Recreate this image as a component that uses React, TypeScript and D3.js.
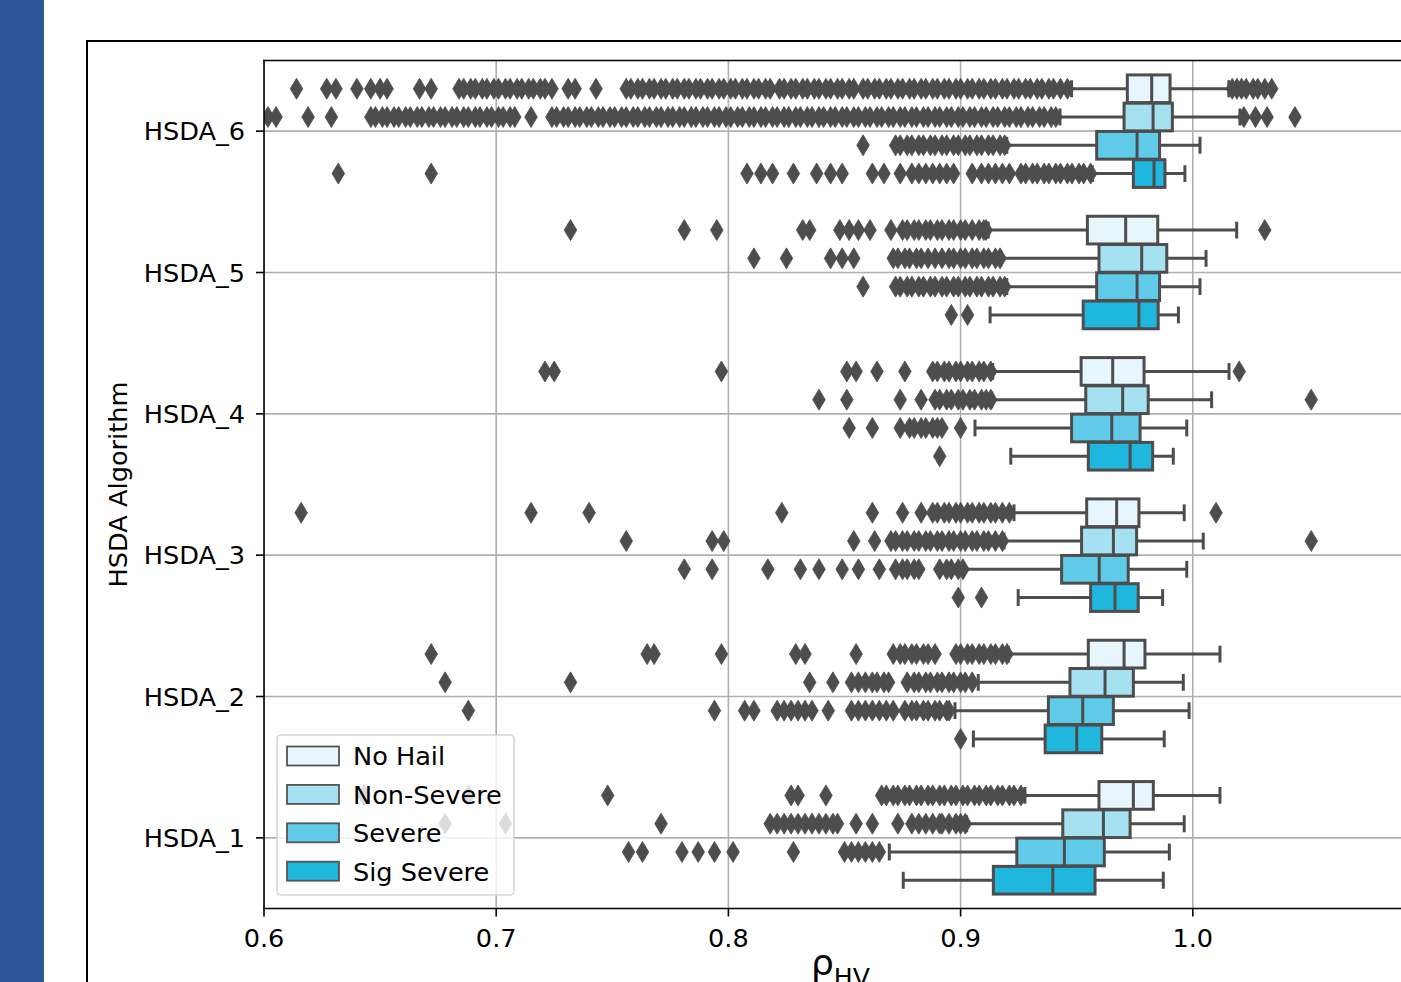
import React from "react";
import * as d3 from "d3";

const CATEGORIES = ["HSDA_6", "HSDA_5", "HSDA_4", "HSDA_3", "HSDA_2", "HSDA_1"];
const HUES = ["No Hail", "Non-Severe", "Severe", "Sig Severe"];
const HUE_COLORS = ["#e6f6fc", "#a6e1f1", "#5fcbe8", "#1fb7de"];
const X_TICKS = [0.6, 0.7, 0.8, 0.9, 1.0];

// [lower whisker, Q1, median, Q3, upper whisker], rows HSDA_6 .. HSDA_1
const NO_HAIL_BOX = [
  [0.9478, 0.9718, 0.9823, 0.9902, 1.0155],
  [0.9119, 0.9546, 0.9711, 0.9849, 1.0189],
  [0.9138, 0.9519, 0.9655, 0.979, 1.0156],
  [0.923, 0.9543, 0.9672, 0.9768, 0.9963],
  [0.9205, 0.955, 0.9704, 0.9794, 1.0117],
  [0.9277, 0.9596, 0.9744, 0.983, 1.0117],
];
const NON_SEVERE_BOX = [
  [0.9428, 0.9704, 0.9829, 0.9912, 1.0203],
  [0.9173, 0.9596, 0.978, 0.9888, 1.0057],
  [0.9134, 0.9539, 0.9698, 0.9808, 1.0081],
  [0.9187, 0.9521, 0.9658, 0.9758, 1.0045],
  [0.9076, 0.9471, 0.9622, 0.9744, 0.9959],
  [0.9026, 0.944, 0.9615, 0.973, 0.9963],
];
const SEVERE_BOX = [
  [0.9199, 0.9586, 0.976, 0.9857, 1.0031],
  [0.9199, 0.9586, 0.976, 0.9857, 1.0031],
  [0.9062, 0.9478, 0.9651, 0.9773, 0.9974],
  [0.9012, 0.9435, 0.9597, 0.9722, 0.9974],
  [0.8976, 0.9378, 0.9526, 0.9658, 0.9984],
  [0.8693, 0.9242, 0.9447, 0.9619, 0.9899],
];
const SIG_SEVERE_BOX = [
  [0.9567, 0.9744, 0.9833, 0.988, 0.9966],
  [0.9127, 0.9528, 0.9768, 0.9851, 0.9938],
  [0.9216, 0.955, 0.973, 0.9827, 0.9916],
  [0.9248, 0.956, 0.9665, 0.9765, 0.987],
  [0.9055, 0.9364, 0.95, 0.9608, 0.9877],
  [0.8753, 0.9141, 0.9397, 0.9579, 0.9873],
];

// outliers, rows HSDA_6 .. HSDA_1
const NO_HAIL_OUT = [
  [0.614, 0.627, 0.631, 0.64, 0.646, 0.65, 0.653, 0.667, 0.672,
   0.684, 0.686, 0.689, 0.691, 0.694, 0.696, 0.699, 0.701, 0.704, 0.706, 0.709, 0.711, 0.714, 0.716, 0.719, 0.721, 0.724,
   0.731, 0.734, 0.743,
   0.756, 0.758, 0.761, 0.763, 0.766, 0.768, 0.771, 0.773, 0.776, 0.778, 0.781, 0.783, 0.786, 0.788, 0.791, 0.793, 0.796,
   0.798, 0.801, 0.803, 0.806, 0.808, 0.811, 0.813, 0.816, 0.818, 0.822, 0.824, 0.827, 0.829, 0.832, 0.834, 0.837, 0.839,
   0.842, 0.844, 0.847, 0.849, 0.852, 0.854, 0.858, 0.86, 0.863, 0.865, 0.868, 0.87, 0.873, 0.875, 0.878, 0.88, 0.883,
   0.885, 0.888, 0.89, 0.893, 0.895, 0.898, 0.9, 0.903, 0.905, 0.908, 0.91, 0.913, 0.915, 0.918, 0.92, 0.923, 0.925, 0.928,
   0.93, 0.933, 0.935, 0.938, 0.94, 0.943, 0.946,
   1.017, 1.019, 1.021, 1.023, 1.026, 1.028, 1.031, 1.034],
  [0.732, 0.781, 0.795, 0.832, 0.835, 0.848, 0.852, 0.856, 0.861, 0.87, 0.875, 0.877, 0.88, 0.882, 0.885, 0.887, 0.89,
   0.892, 0.895, 0.897, 0.9, 0.902, 0.905, 0.908, 0.91, 0.911, 1.031],
  [0.721, 0.725, 0.797, 0.851, 0.855, 0.864, 0.876, 0.888, 0.89, 0.893, 0.895, 0.898, 0.9, 0.903, 0.905, 0.908, 0.91,
   0.913, 1.02],
  [0.616, 0.715, 0.74, 0.823, 0.862, 0.875, 0.883, 0.888, 0.89, 0.893, 0.895, 0.898, 0.9, 0.903, 0.905, 0.908, 0.91,
   0.913, 0.915, 0.918, 0.921, 1.01],
  [0.672, 0.765, 0.768, 0.797, 0.829, 0.833, 0.855, 0.871, 0.874, 0.876, 0.879, 0.881, 0.884, 0.886, 0.889, 0.898, 0.9,
   0.903, 0.905, 0.908, 0.91, 0.913, 0.915, 0.918, 0.92],
  [0.643, 0.688, 0.748, 0.827, 0.83, 0.842, 0.866, 0.868, 0.871, 0.873, 0.876, 0.878, 0.881, 0.883, 0.886, 0.888, 0.891,
   0.893, 0.896, 0.898, 0.901, 0.903, 0.906, 0.908, 0.911, 0.913, 0.916, 0.918, 0.921, 0.923, 0.926],
];
const NON_SEVERE_OUT = [
  [0.6017, 0.6052, 0.619, 0.629,
   0.646, 0.648, 0.651, 0.653, 0.656, 0.658, 0.661, 0.663, 0.666, 0.668, 0.671, 0.673, 0.676, 0.678, 0.681, 0.683, 0.686,
   0.688, 0.691, 0.693, 0.696, 0.698, 0.701, 0.703, 0.706, 0.708, 0.715,
   0.724, 0.726, 0.729, 0.731, 0.734, 0.736, 0.739, 0.741, 0.744, 0.746, 0.749, 0.751, 0.754, 0.756, 0.759, 0.761, 0.764,
   0.766, 0.769, 0.771, 0.774, 0.776, 0.779, 0.781, 0.784, 0.786, 0.789, 0.791, 0.794, 0.796, 0.799, 0.801, 0.804, 0.806,
   0.809, 0.811, 0.814, 0.816, 0.819, 0.821, 0.824, 0.826, 0.829, 0.831, 0.834, 0.836, 0.839, 0.841, 0.844, 0.846, 0.849,
   0.851, 0.854, 0.856, 0.859, 0.861, 0.864, 0.866, 0.869, 0.871, 0.874, 0.876, 0.879, 0.881, 0.884, 0.886, 0.889, 0.891,
   0.894, 0.896, 0.899, 0.901, 0.904, 0.906, 0.909, 0.911, 0.914, 0.916, 0.919, 0.921, 0.924, 0.926, 0.929, 0.931, 0.934,
   0.936, 0.939, 0.941,
   1.022, 1.027, 1.032, 1.044],
  [0.811, 0.825, 0.844, 0.849, 0.854, 0.871, 0.873, 0.876, 0.878, 0.881, 0.883, 0.886, 0.889, 0.892, 0.895, 0.897, 0.9,
   0.902, 0.905, 0.907, 0.91, 0.912, 0.915, 0.917],
  [0.839, 0.851, 0.874, 0.883, 0.889, 0.891, 0.894, 0.896, 0.899, 0.901, 0.904, 0.906, 0.909, 0.911, 0.913, 1.051],
  [0.756, 0.793, 0.798, 0.854, 0.863, 0.87, 0.872, 0.875, 0.877, 0.88, 0.882, 0.885, 0.887, 0.89, 0.892, 0.895, 0.897,
   0.9, 0.902, 0.905, 0.907, 0.91, 0.912, 0.915, 0.918, 1.051],
  [0.678, 0.732, 0.835, 0.845, 0.853, 0.856, 0.859, 0.862, 0.864, 0.867, 0.869, 0.877, 0.88, 0.882, 0.885, 0.887, 0.89,
   0.892, 0.895, 0.897, 0.9, 0.902, 0.905],
  [0.678, 0.704, 0.771, 0.818, 0.821, 0.824, 0.827, 0.83, 0.833, 0.836, 0.839, 0.842, 0.845, 0.847, 0.855, 0.862, 0.873,
   0.879, 0.882, 0.885, 0.888, 0.891, 0.892, 0.895, 0.898, 0.9, 0.902],
];
const SEVERE_OUT = [
  [0.858, 0.872, 0.874, 0.877, 0.879, 0.882, 0.884, 0.887, 0.889, 0.892, 0.894, 0.897, 0.899, 0.902, 0.904, 0.907, 0.909,
   0.912, 0.914, 0.917, 0.919],
  [0.858, 0.872, 0.874, 0.877, 0.879, 0.882, 0.884, 0.887, 0.889, 0.892, 0.894, 0.897, 0.899, 0.902, 0.904, 0.907, 0.909,
   0.912, 0.914, 0.917, 0.919],
  [0.852, 0.862, 0.874, 0.878, 0.88, 0.883, 0.885, 0.888, 0.89, 0.892, 0.9],
  [0.781, 0.793, 0.817, 0.831, 0.839, 0.849, 0.856, 0.865, 0.872, 0.875, 0.877, 0.88, 0.882, 0.891, 0.894, 0.896, 0.899,
   0.901],
  [0.688, 0.794, 0.807, 0.811, 0.821, 0.824, 0.827, 0.83, 0.833, 0.836, 0.843, 0.853, 0.856, 0.859, 0.862, 0.865, 0.868,
   0.871, 0.876, 0.879, 0.881, 0.884, 0.886, 0.889, 0.891, 0.894, 0.895],
  [0.757, 0.763, 0.78, 0.787, 0.794, 0.802, 0.828, 0.85, 0.853, 0.856, 0.859, 0.862, 0.865],
];
const SIG_SEVERE_OUT = [
  [0.632, 0.672, 0.808, 0.814, 0.819, 0.828, 0.838, 0.844, 0.849, 0.862, 0.867, 0.874, 0.879, 0.882, 0.885, 0.888, 0.891,
   0.894, 0.897, 0.905, 0.909, 0.912, 0.915, 0.918, 0.921, 0.926, 0.928, 0.931, 0.933, 0.936, 0.938, 0.941, 0.943, 0.946,
   0.948, 0.951, 0.953, 0.956],
  [0.896, 0.903],
  [0.891],
  [0.899, 0.909],
  [0.9],
  [],
];

const BOXES = [NO_HAIL_BOX, NON_SEVERE_BOX, SEVERE_BOX, SIG_SEVERE_BOX];
const OUTLIERS = [NO_HAIL_OUT, NON_SEVERE_OUT, SEVERE_OUT, SIG_SEVERE_OUT];

const W = 1401;
const H = 982;
const PLOT = { left: 264, top: 60.5, right: 1417, bottom: 908.5 };
const GRAY = "#4d4d4d";
const FONT = "'DejaVu Sans', sans-serif";

export default function App() {
  const x = d3.scaleLinear().domain([0.6, 1.0]).range([PLOT.left, PLOT.left + 4 * 232.2]);
  const y = d3.scaleBand<string>().domain(CATEGORIES).range([PLOT.top, PLOT.bottom]);
  const bw = y.bandwidth();
  const hue = d3.scaleBand<string>().domain(HUES).range([-0.4 * bw, 0.4 * bw]);
  const hb = hue.bandwidth();
  const boxH = hb * 0.98;
  const capHalf = boxH * 0.25;
  const diamond = "M0,-10.5L6.3,0L0,10.5L-6.3,0Z";
  const midX = (PLOT.left + PLOT.right) / 2;
  const midY = (PLOT.top + PLOT.bottom) / 2;

  const legendX = 277;
  const legendY = 735;

  return (
    <svg width={W} height={H} style={{ position: "fixed", left: 0, top: 0, background: "#fff" }} fontFamily={FONT}>
      <defs>
        <clipPath id="plotclip">
          <rect x={PLOT.left} y={PLOT.top} width={PLOT.right - PLOT.left} height={PLOT.bottom - PLOT.top} />
        </clipPath>
      </defs>
      <rect x={0} y={0} width={W} height={H} fill="#fff" />
      <rect x={0} y={0} width={44} height={H} fill="#2E5597" />
      <rect x={87} y={41} width={W} height={H} fill="none" stroke="#000" strokeWidth={2} />

      <g clipPath="url(#plotclip)">
        {X_TICKS.map((t) => (
          <line key={"gx" + t} x1={x(t)} x2={x(t)} y1={PLOT.top} y2={PLOT.bottom} stroke="#b0b0b0" strokeWidth={1.6} />
        ))}
        {CATEGORIES.map((c) => (
          <line key={"gy" + c} x1={PLOT.left} x2={PLOT.right} y1={y(c)! + bw / 2} y2={y(c)! + bw / 2} stroke="#b0b0b0" strokeWidth={1.6} />
        ))}

        {HUES.map((h, hi) =>
          CATEGORIES.map((c, ci) => {
            const [wlo, q1, med, q3, whi] = BOXES[hi][ci];
            const cy = y(c)! + bw / 2 + hue(h)! + hb / 2;
            return (
              <g key={h + c}>
                <line x1={x(wlo)} x2={x(q1)} y1={cy} y2={cy} stroke={GRAY} strokeWidth={3} />
                <line x1={x(q3)} x2={x(whi)} y1={cy} y2={cy} stroke={GRAY} strokeWidth={3} />
                <line x1={x(wlo)} x2={x(wlo)} y1={cy - capHalf} y2={cy + capHalf} stroke={GRAY} strokeWidth={3} strokeLinecap="square" />
                <line x1={x(whi)} x2={x(whi)} y1={cy - capHalf} y2={cy + capHalf} stroke={GRAY} strokeWidth={3} strokeLinecap="square" />
                <rect x={x(q1)} y={cy - boxH / 2} width={x(q3) - x(q1)} height={boxH} fill={HUE_COLORS[hi]} stroke={GRAY} strokeWidth={3} />
                <line x1={x(med)} x2={x(med)} y1={cy - boxH / 2} y2={cy + boxH / 2} stroke={GRAY} strokeWidth={3} />
              </g>
            );
          })
        )}
        {HUES.map((h, hi) =>
          CATEGORIES.map((c, ci) => {
            const cy = y(c)! + bw / 2 + hue(h)! + hb / 2;
            return OUTLIERS[hi][ci].map((v, k) => (
              <path key={h + c + k} d={diamond} transform={`translate(${x(v)},${cy})`} fill={GRAY} stroke={GRAY} strokeWidth={0.8} />
            ));
          })
        )}
      </g>

      {/* spines */}
      <line x1={PLOT.left} x2={PLOT.left} y1={PLOT.top} y2={PLOT.bottom} stroke="#000" strokeWidth={1.6} strokeLinecap="square" />
      <line x1={PLOT.left} x2={W + 10} y1={PLOT.top} y2={PLOT.top} stroke="#000" strokeWidth={1.6} strokeLinecap="square" />
      <line x1={PLOT.left} x2={W + 10} y1={PLOT.bottom} y2={PLOT.bottom} stroke="#000" strokeWidth={1.6} strokeLinecap="square" />

      {/* y ticks */}
      {CATEGORIES.map((c) => {
        const cy = y(c)! + bw / 2;
        return (
          <g key={"yt" + c}>
            <line x1={PLOT.left - 8} x2={PLOT.left} y1={cy} y2={cy} stroke="#000" strokeWidth={1.6} />
            <text x={245} y={cy + 9.3} textAnchor="end" fontSize={25.6} fill="#000">{c}</text>
          </g>
        );
      })}
      {/* x ticks */}
      {X_TICKS.map((t) => (
        <g key={"xt" + t}>
          <line x1={x(t)} x2={x(t)} y1={PLOT.bottom} y2={PLOT.bottom + 8} stroke="#000" strokeWidth={1.6} />
          <text x={x(t)} y={946.5} textAnchor="middle" fontSize={25.6} fill="#000">{d3.format(".1f")(t)}</text>
        </g>
      ))}

      <text transform={`translate(126.5,${midY}) rotate(-90)`} textAnchor="middle" fontSize={25.6} fill="#000">HSDA Algorithm</text>
      <text x={midX} y={975} textAnchor="middle" fill="#000">
        <tspan fontSize={36}>ρ</tspan>
        <tspan fontSize={25.2} dy={11}>HV</tspan>
      </text>

      {/* legend */}
      <g>
        <rect x={legendX} y={legendY} width={237} height={160} rx={4} fill="#fff" fillOpacity={0.8} stroke="#cccccc" strokeOpacity={0.8} strokeWidth={1.6} />
        {HUES.map((h, i) => {
          const py = 746.5 + i * 38.4;
          return (
            <g key={"lg" + h}>
              <rect x={287} y={py} width={52} height={19} fill={HUE_COLORS[i]} stroke="#555" strokeWidth={1.8} />
              <text x={353} y={py + 9.5 + 9.3} fontSize={25.6} fill="#000">{h}</text>
            </g>
          );
        })}
      </g>
    </svg>
  );
}
